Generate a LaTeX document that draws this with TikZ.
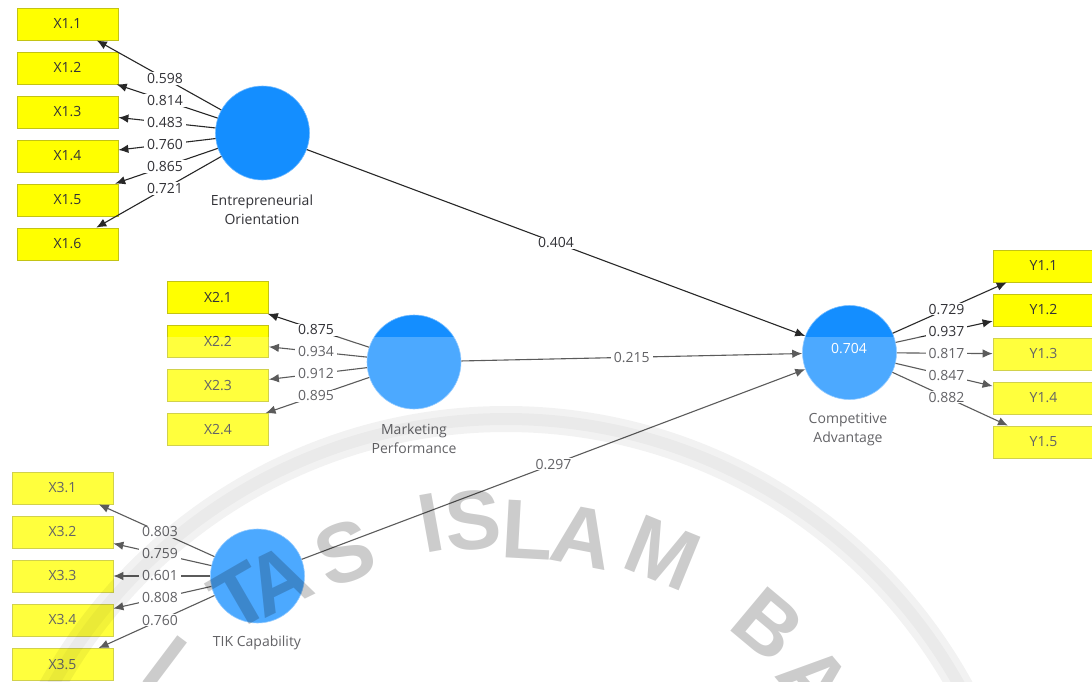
\documentclass[tikz,border=0pt]{standalone}
\usepackage{fontspec}
\setmainfont{Open Sans}
\newfontfamily\wmfont{Liberation Sans}
\usetikzlibrary{arrows.meta,calc}
\definecolor{latblue}{RGB}{20,142,255}
\definecolor{indyellow}{RGB}{255,255,0}
\definecolor{indborder}{RGB}{195,195,20}
\definecolor{linegray}{RGB}{40,40,40}
\definecolor{txtgray}{RGB}{50,50,55}
\begin{document}
\begin{tikzpicture}[x=1pt,y=1pt,
 ind/.style={draw=indborder, line width=0.8pt, fill=indyellow, minimum width=101pt, minimum height=32pt, inner sep=0pt, font=\fontsize{14}{14}\selectfont, text=txtgray},
 lat/.style={circle, fill=latblue, draw=latblue!60!white, line width=0.6pt, minimum size=94pt, inner sep=0pt},
 latname/.style={align=center, font=\fontsize{14}{19}\selectfont, text=txtgray},
 conn/.style={draw=linegray, line width=1.1pt, -{Latex[length=10pt,width=8.5pt]}},
 coef/.style={fill=white, inner xsep=3pt, inner ysep=1pt, font=\fontsize{14}{14}\selectfont, text=txtgray},
 wmletter/.style={font=\wmfont\bfseries\fontsize{84}{84}\selectfont, text=black, text opacity=0.2, inner sep=0pt}
]
\useasboundingbox (0,0) rectangle (1092,-681);
\clip (0,0) rectangle (1092,-681);
\fill[white] (0,0) rectangle (1092,-681);

% latent variables
\node[lat] (eo) at (262.5,-133) {};
\node[lat] (mp) at (414,-362) {};
\node[lat] (ca) at (849.5,-352.5) {};
\node[lat] (tik) at (257.5,-576) {};
\node[font=\fontsize{14}{14}\selectfont, text=white] (r2) at (849,-349) {0.704};

\node[latname] (eon) at (262,-209.5) {Entrepreneurial\\Orientation};
\node[latname] (mpn) at (414,-438.5) {Marketing\\Performance};
\node[latname] (can) at (848,-429.5) {Competitive\\Advantage};
\node[latname] (tikn) at (257,-643) {TIK Capability};

% indicators
\foreach \i/\y in {1/24,2/68,3/112,4/156,5/200,6/244}
  \node[ind] (x1\i) at (67.5,-\y) {X1.\i};
\foreach \i/\y in {1/297.5,2/341.5,3/385.5,4/429.5}
  \node[ind] (x2\i) at (218,-\y) {X2.\i};
\foreach \i/\y in {1/488,2/532,3/576,4/620,5/664.5}
  \node[ind] (x3\i) at (62.5,-\y) {X3.\i};
\foreach \i/\y in {1/266,2/310,3/354,4/398,5/442}
  \node[ind] (y1\i) at (1043.5,-\y) {Y1.\i};

% connectors
\foreach \i in {1,...,6} \draw[conn] (eo) -- (x1\i);
\foreach \i in {1,...,4} \draw[conn] (mp) -- (x2\i);
\foreach \i in {1,...,5} \draw[conn] (tik) -- (x3\i);
\foreach \i in {1,...,5} \draw[conn] (ca) -- (y1\i);
\draw[conn] (eo) -- (ca);
\draw[conn] (mp) -- (ca);
\draw[conn] (tik) -- (ca);

% coefficients
\foreach \i/\v in {1/0.598,2/0.814,3/0.483,4/0.760,5/0.865,6/0.721}
  \node[coef] at ($(eo.center)!0.5!(x1\i.center)$) {\v};
\foreach \i/\v in {1/0.875,2/0.934,3/0.912,4/0.895}
  \node[coef] at ($(mp.center)!0.5!(x2\i.center)$) {\v};
\foreach \i/\v in {1/0.803,2/0.759,3/0.601,4/0.808,5/0.760}
  \node[coef] at ($(tik.center)!0.5!(x3\i.center)$) {\v};
\foreach \i/\v in {1/0.729,2/0.937,3/0.817,4/0.847,5/0.882}
  \node[coef] at ($(ca.center)!0.5!(y1\i.center)$) {\v};
\node[coef] at ($(eo.center)!0.5!(ca.center)$) {0.404};
\node[coef] at ($(mp.center)!0.5!(ca.center)$) {0.215};
\node[coef] at ($(tik.center)!0.5!(ca.center)$) {0.297};

% watermark
\fill[white, opacity=0.24] (0,-337) rectangle (1092,-681);
\draw[black, opacity=0.05, line width=26pt] (506,-938) circle (519);
\draw[black, opacity=0.03, line width=12pt] (506,-938) circle (519);
\foreach \px/\py/\r/\l in {165/662/-37/I, 240/597/30/T, 278/580/26/A, 345/553/20/S,
   431/523/10.2/I, 473/520/4.5/S, 528/530/-3.1/L, 583/537/-10.9/A, 663/553/-22.2/M,
   768/625/-39.9/B, 815/680/-50/A}
  \node[wmletter, rotate=\r] at (\px,-\py) {\l};
\end{tikzpicture}
\end{document}
